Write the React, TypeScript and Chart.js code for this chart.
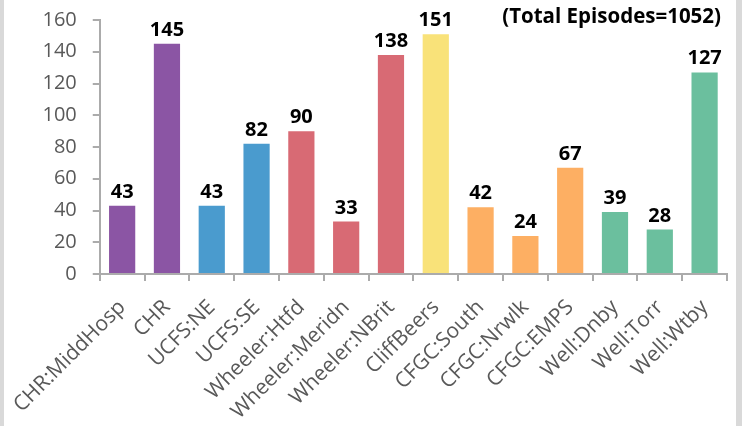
import React, { useEffect, useRef } from "react";
import { Chart, registerables } from "chart.js";

Chart.register(...registerables);

const categories = [
  "CHR:MiddHosp",
  "CHR",
  "UCFS:NE",
  "UCFS:SE",
  "Wheeler:Htfd",
  "Wheeler:Meridn",
  "Wheeler:NBrit",
  "CliffBeers",
  "CFGC:South",
  "CFGC:Nrwlk",
  "CFGC:EMPS",
  "Well:Dnby",
  "Well:Torr",
  "Well:Wtby",
];

const episodes = [43, 145, 43, 82, 90, 33, 138, 151, 42, 24, 67, 39, 28, 127];

const PURPLE = "#8B55A4";
const BLUE = "#4A9BCE";
const RED = "#D86A74";
const YELLOW = "#F9E279";
const ORANGE = "#FDAF63";
const GREEN = "#6BBF9E";

const barColors = [
  PURPLE, PURPLE, BLUE, BLUE, RED, RED, RED, YELLOW, ORANGE, ORANGE, ORANGE, GREEN, GREEN, GREEN,
];

const titleText = "(Total Episodes=1052)";

const FONT = "'Open Sans', 'DejaVu Sans', sans-serif";

const labelPlugin = {
  id: "valueLabels",
  afterDatasetsDraw(chart: any) {
    const ctx = chart.ctx;
    const meta = chart.getDatasetMeta(0);
    ctx.save();
    ctx.fillStyle = "#000000";
    ctx.font = `bold 20px ${FONT}`;
    ctx.textAlign = "center";
    ctx.textBaseline = "alphabetic";
    meta.data.forEach((el: any, i: number) => {
      ctx.fillText(String(chart.data.datasets[0].data[i]), el.x, el.y - 8);
    });
    ctx.font = `bold 20.5px ${FONT}`;
    ctx.textAlign = "right";
    ctx.fillText(titleText, chart.width - 21, 23);
    ctx.restore();
  },
};

export default function App() {
  const ref = useRef<HTMLCanvasElement | null>(null);

  useEffect(() => {
    document.body.style.margin = "0";
    const canvas = ref.current;
    if (!canvas) return;
    const chart = new Chart(canvas, {
      type: "bar",
      data: {
        labels: categories,
        datasets: [
          {
            data: episodes,
            backgroundColor: barColors,
            borderWidth: 0,
            barPercentage: 0.585,
            categoryPercentage: 1,
          },
        ],
      },
      options: {
        responsive: false,
        animation: false,
        layout: { padding: { top: 20, right: 15, bottom: 0, left: 0 } },
        plugins: {
          legend: { display: false },
          tooltip: { enabled: false },
          title: { display: false },
        },
        scales: {
          x: {
            afterFit(scale: any) {
              scale.height = 152;
            },
            grid: {
              display: true,
              drawOnChartArea: false,
              drawTicks: true,
              tickLength: 7,
              color: "#ABABAB",
              lineWidth: 2,
              offset: true,
            },
            border: { display: true, color: "#ABABAB", width: 2 },
            ticks: {
              autoSkip: false,
              minRotation: 45,
              maxRotation: 45,
              padding: 14,
              color: "#595959",
              font: { family: FONT, size: 21 },
            },
          },
          y: {
            min: 0,
            max: 160,
            afterFit(scale: any) {
              scale.width = 97;
              scale.paddingTop = 0;
              scale.paddingBottom = 0;
            },
            grid: {
              display: true,
              drawOnChartArea: false,
              drawTicks: true,
              tickLength: 7,
              color: "#ABABAB",
              lineWidth: 2,
            },
            border: { display: true, color: "#ABABAB", width: 2 },
            ticks: {
              stepSize: 20,
              padding: 16,
              color: "#595959",
              font: { family: FONT, size: 20 },
            },
          },
        },
      },
      plugins: [labelPlugin],
    });
    return () => chart.destroy();
  }, []);

  return (
    <div
      style={{
        position: "fixed",
        left: 0,
        top: 0,
        width: 742,
        height: 426,
        background: "#D9D9D9",
      }}
    >
      <div
        style={{
          position: "absolute",
          left: 4,
          top: 0,
          width: 732,
          height: 426,
          background: "#FFFFFF",
        }}
      />
      <canvas
        ref={ref}
        width={742}
        height={426}
        style={{ position: "absolute", left: 0, top: 0, width: 742, height: 426 }}
      />
    </div>
  );
}
